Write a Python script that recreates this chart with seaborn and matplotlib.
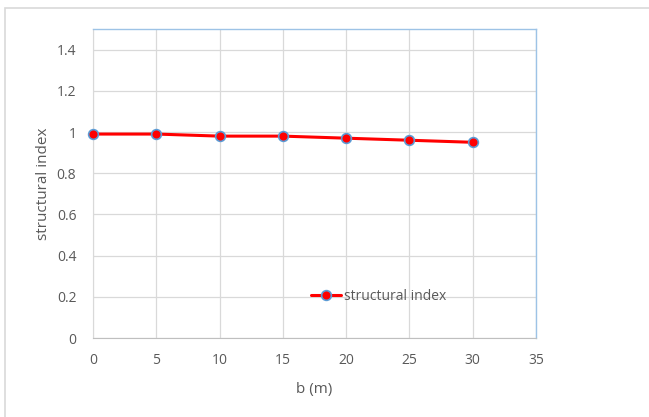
import matplotlib
matplotlib.use("Agg")
import matplotlib.pyplot as plt
import seaborn as sns
import pandas as pd
from matplotlib.patches import Rectangle

b_values = [0, 5, 10, 15, 20, 25, 30]
structural_index = [0.99, 0.99, 0.98, 0.98, 0.97, 0.96, 0.95]
x_ticks = [0, 5, 10, 15, 20, 25, 30, 35]
y_ticks = [0, 0.2, 0.4, 0.6, 0.8, 1, 1.2, 1.4]
y_labels = ["0", "0.2", "0.4", "0.6", "0.8", "1", "1.2", "1.4"]

df = pd.DataFrame({"b": b_values, "si": structural_index})

sns.set_style("white")
plt.rcParams['font.family'] = ['Open Sans', 'DejaVu Sans']
txt = "#595959"

fig = plt.figure(figsize=(6.49, 4.17), dpi=100)
fig.patches.append(Rectangle((5/649, -0.05), 1.1, (417-8)/417 + 0.05, transform=fig.transFigure,
                             fill=False, edgecolor="#d9d9d9", linewidth=1.2))
ax = fig.add_axes([93/649, (417-338)/417, (536-93)/649, (338-29)/417])

sns.lineplot(data=df, x="b", y="si", ax=ax, color="#ff0000", linewidth=2.2,
             marker="o", markersize=7, markerfacecolor="#ff0000",
             markeredgecolor="#5b9bd5", markeredgewidth=1.2, label="structural index",
             clip_on=False, zorder=5)

ax.set_xlim(0, 35)
ax.set_ylim(0, 1.5)
ax.set_xticks(x_ticks)
ax.set_yticks(y_ticks)
ax.set_yticklabels(y_labels)
ax.grid(True, color="#d9d9d9", linewidth=0.9)
ax.tick_params(axis="x", colors=txt, labelsize=10, length=0, pad=11)
ax.tick_params(axis="y", colors=txt, labelsize=10, length=0, pad=12)
ax.set_xlabel("b (m)", color=txt, fontsize=11, labelpad=10)
ax.set_ylabel("structural index", color=txt, fontsize=11, labelpad=4)
for s in ["top", "right"]:
    ax.spines[s].set_color("#9dc3e6")
    ax.spines[s].set_linewidth(1.0)
ax.spines["left"].set_color("#d9d9d9")
ax.spines["bottom"].set_color("#bfbfbf")

leg = ax.legend(loc="center", bbox_to_anchor=(0.645, 0.135), frameon=False, fontsize=10,
                handlelength=2.2, handletextpad=0.2)
for t in leg.get_texts():
    t.set_color(txt)

fig.savefig("out.png", dpi=100)
